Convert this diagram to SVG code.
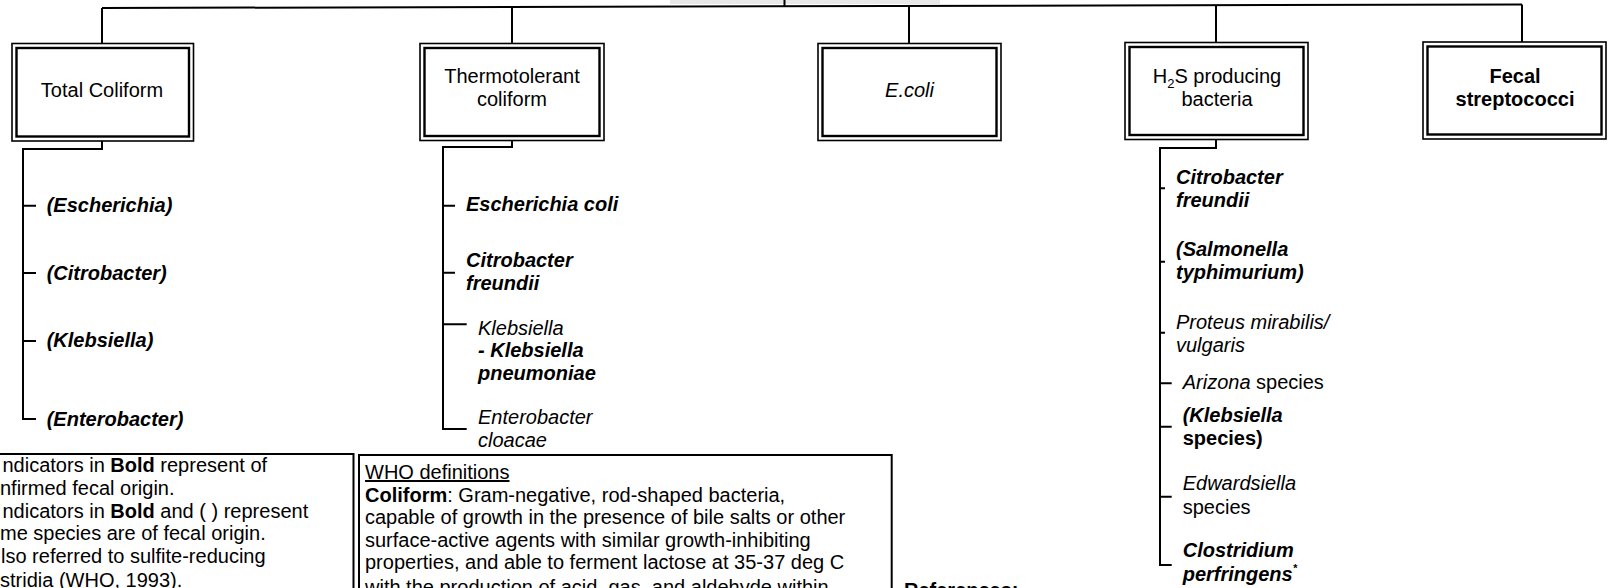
<svg xmlns="http://www.w3.org/2000/svg" width="1608" height="588" viewBox="0 0 1608 588">
<style>
text{font-family:"Liberation Sans",Arial,sans-serif;font-size:20px;fill:#000}
.b{font-weight:bold}
.i{font-style:italic}
.bi{font-weight:bold;font-style:italic}
.ln{stroke:#000;stroke-width:2;fill:none}
.bo{fill:#fff;stroke:#000;stroke-width:1.6}
.bn{fill:none;stroke:#000;stroke-width:2.4}
</style>
<rect width="1608" height="588" fill="#fff"/>
<g id="root-fragment">
<rect x="670" y="0" width="270" height="4" fill="#d8d8d8" opacity="0.6"/>
</g>
<g id="connectors" class="ln">
<path d="M784.5 0V7"/>
<path d="M102 8L1522 4.5"/>
<path d="M102 8V43.5M512 7V43.5M909 6.5V43.5M1216 5.5V42.5M1522 4.5V42"/>
<path d="M102 141V149H23V419H36M23 205.7H36M23 273H36M23 341H36"/>
<path d="M512 140.5V147H443V429H466.7M443 205.7H455M443 272.7H455M443 324.3H466.7"/>
<path d="M1216 139.5V148H1160V565H1171.7M1160 188.3H1165M1160 261.7H1165M1160 332.7H1165M1160 383.3H1171.7M1160 426.7H1171.7M1160 496.7H1171.7"/>
</g>
<g id="n-total">
<rect class="bo" x="12" y="43.5" width="181.5" height="97.5"/>
<rect class="bn" x="16.5" y="48" width="172.5" height="88.5"/>
<text x="102" y="97" text-anchor="middle">Total Coliform</text>
</g>
<g id="n-thermo">
<rect class="bo" x="420" y="43.5" width="184" height="97"/>
<rect class="bn" x="424.5" y="48" width="175" height="88"/>
<text x="512" y="83" text-anchor="middle">Thermotolerant</text>
<text x="512" y="106" text-anchor="middle">coliform</text>
</g>
<g id="n-ecoli">
<rect class="bo" x="818" y="43.5" width="183" height="97"/>
<rect class="bn" x="822.5" y="48" width="174" height="88"/>
<text class="i" x="909.5" y="97" text-anchor="middle">E.coli</text>
</g>
<g id="n-h2s">
<rect class="bo" x="1125" y="42.5" width="183" height="97"/>
<rect class="bn" x="1129.5" y="47" width="174" height="88"/>
<text x="1217" y="83" text-anchor="middle">H<tspan font-size="13" dy="5">2</tspan><tspan dy="-5">S producing</tspan></text>
<text x="1217" y="106" text-anchor="middle">bacteria</text>
</g>
<g id="n-fecal">
<rect class="bo" x="1423" y="42" width="183" height="97"/>
<rect class="bn" x="1427.5" y="46.5" width="174" height="88"/>
<text class="b" x="1515" y="83" text-anchor="middle">Fecal</text>
<text class="b" x="1515" y="106" text-anchor="middle">streptococci</text>
</g>
<g id="list-total">
<text class="bi" x="46.7" y="211.5">(Escherichia)</text>
<text class="bi" x="46.7" y="279.5">(Citrobacter)</text>
<text class="bi" x="46.7" y="347">(Klebsiella)</text>
<text class="bi" x="46.7" y="425.5">(Enterobacter)</text>
</g>
<g id="list-thermo">
<text class="bi" x="466" y="211">Escherichia coli</text>
<text class="bi" x="466" y="266.5">Citrobacter</text>
<text class="bi" x="466" y="290">freundii</text>
<text class="i" x="478" y="334.5">Klebsiella</text>
<text class="bi" x="478" y="357">- Klebsiella</text>
<text class="bi" x="478" y="380">pneumoniae</text>
<text class="i" x="478" y="424">Enterobacter</text>
<text class="i" x="478" y="447">cloacae</text>
</g>
<g id="list-h2s">
<text class="bi" x="1176" y="183.5">Citrobacter</text>
<text class="bi" x="1176" y="207">freundii</text>
<text class="bi" x="1176" y="255.5">(Salmonella</text>
<text class="bi" x="1176" y="279">typhimurium)</text>
<text class="i" x="1176" y="328.5">Proteus mirabilis/</text>
<text class="i" x="1176" y="351.5">vulgaris</text>
<text x="1182.7" y="388.5"><tspan class="i">Arizona</tspan> species</text>
<text class="bi" x="1182.7" y="421.5">(Klebsiella</text>
<text class="b" x="1182.7" y="444.5">species)</text>
<text class="i" x="1182.7" y="490">Edwardsiella</text>
<text x="1182.7" y="513.5">species</text>
<text class="bi" x="1182.7" y="557">Clostridium</text>
<text class="bi" x="1182.7" y="580.5">perfringens<tspan font-size="11" dy="-9">*</tspan></text>
</g>
<g id="note-legend">
<path class="ln" d="M0 454H353.5V588"/>
<text x="2.5" y="472">ndicators in <tspan class="b">Bold</tspan> represent of</text>
<text x="0" y="494.8">nfirmed fecal origin.</text>
<text x="2.5" y="517.6">ndicators in <tspan class="b">Bold</tspan> and ( ) represent</text>
<text x="0" y="540.4">me species are of fecal origin.</text>
<text x="1" y="563.2">lso referred to sulfite-reducing</text>
<text x="0" y="586.5">stridia (WHO, 1993).</text>
</g>
<g id="note-who">
<path class="ln" d="M359 588V455H891.7V588"/>
<text x="365" y="479" text-decoration="underline">WHO definitions</text>
<text x="365" y="501.6"><tspan class="b">Coliform</tspan>: Gram-negative, rod-shaped bacteria,</text>
<text x="365" y="524.2">capable of growth in the presence of bile salts or other</text>
<text x="365" y="546.8">surface-active agents with similar growth-inhibiting</text>
<text x="365" y="569.4">properties, and able to ferment lactose at 35-37 deg C</text>
<text x="365" y="593.5">with the production of acid, gas, and aldehyde within</text>
</g>
<g id="note-refs">
<text class="b" x="904" y="597" font-size="26">References:</text>
</g>
</svg>
